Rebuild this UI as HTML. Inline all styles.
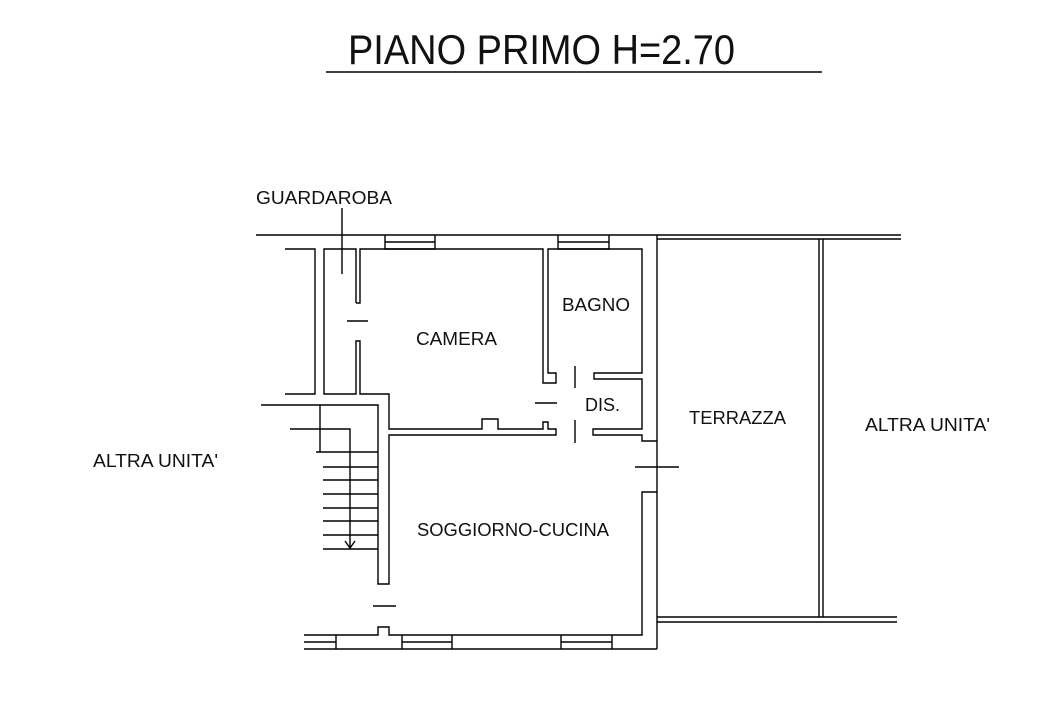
<!DOCTYPE html>
<html><head><meta charset="utf-8"><style>
html,body{margin:0;padding:0;background:#fff;width:1058px;height:706px;overflow:hidden}
svg{display:block}
text{font-family:"Liberation Sans",sans-serif;fill:#111}
</style></head><body>
<svg width="1058" height="706" viewBox="0 0 1058 706" xmlns="http://www.w3.org/2000/svg">
<text x="348" y="64" font-size="42" textLength="387" lengthAdjust="spacingAndGlyphs">PIANO PRIMO H=2.70</text>
<line x1="326" y1="72" x2="822" y2="72" stroke="#000" stroke-width="1.5"/>
<g font-size="18">
<text x="256" y="204" textLength="136" lengthAdjust="spacingAndGlyphs">GUARDAROBA</text>
<text x="416" y="345" textLength="81" lengthAdjust="spacingAndGlyphs">CAMERA</text>
<text x="562" y="311" textLength="68" lengthAdjust="spacingAndGlyphs">BAGNO</text>
<text x="585" y="411" textLength="35" lengthAdjust="spacingAndGlyphs">DIS.</text>
<text x="689" y="424" textLength="97" lengthAdjust="spacingAndGlyphs">TERRAZZA</text>
<text x="417" y="536" textLength="192" lengthAdjust="spacingAndGlyphs">SOGGIORNO-CUCINA</text>
<text x="865" y="431" textLength="125" lengthAdjust="spacingAndGlyphs">ALTRA UNITA'</text>
<text x="93" y="467" textLength="125" lengthAdjust="spacingAndGlyphs">ALTRA UNITA'</text>
</g>
<g stroke="#000" stroke-width="1.4" fill="none">
<line x1="256" y1="235" x2="901" y2="235"/>
<line x1="657" y1="239" x2="901" y2="239"/>
<polyline points="385,235 385,249 435,249 435,235"/>
<line x1="385" y1="242" x2="435" y2="242"/>
<polyline points="558,235 558,249 609,249 609,235"/>
<line x1="558" y1="242" x2="609" y2="242"/>
<polyline points="285,249 315,249 315,394 285,394"/>
<polyline points="356,303 356,249 324,249 324,394 356,394 356,341 360,341 360,394 389,394 389,429 482,429 482,419 498,419 498,429 543,429 543,422 548,422 548,429 556,429 556,435 389,435 389,584 378,584 378,405 261,405"/>
<polyline points="356,303 360,303 360,249 543,249 543,383 556,383 556,373 548,373 548,249 642,249 642,373 594,373 594,379 642,379 642,429 593,429 593,435 642,435 642,441 657,441"/>
<line x1="342" y1="208" x2="342" y2="274"/>
<line x1="347" y1="321" x2="368" y2="321"/>
<line x1="575" y1="366" x2="575" y2="388"/>
<line x1="575" y1="420" x2="575" y2="443"/>
<line x1="535" y1="403" x2="557" y2="403"/>
<line x1="657" y1="235" x2="657" y2="649"/>
<polyline points="657,492 642,492 642,635 389,635 389,627 378,627 378,635 304,635"/>
<line x1="635" y1="467" x2="679" y2="467"/>
<line x1="304" y1="649" x2="657" y2="649"/>
<line x1="304" y1="642" x2="336" y2="642"/>
<line x1="336" y1="635" x2="336" y2="649"/>
<polyline points="402,635 402,649"/><polyline points="452,635 452,649"/>
<line x1="402" y1="642" x2="452" y2="642"/>
<polyline points="561,635 561,649"/><polyline points="612,635 612,649"/>
<line x1="561" y1="642" x2="612" y2="642"/>
<line x1="373" y1="606" x2="396" y2="606"/>
<line x1="320" y1="405" x2="320" y2="452"/>
<line x1="316" y1="452" x2="378" y2="452"/>
<polyline points="290,429 350,429 350,548"/>
<polyline points="345,541 350,548 355,541"/>
<line x1="323" y1="467" x2="378" y2="467"/>
<line x1="323" y1="480" x2="378" y2="480"/>
<line x1="323" y1="494" x2="378" y2="494"/>
<line x1="323" y1="508" x2="378" y2="508"/>
<line x1="323" y1="521" x2="378" y2="521"/>
<line x1="323" y1="535" x2="378" y2="535"/>
<line x1="323" y1="549" x2="378" y2="549"/>
<line x1="819" y1="239" x2="819" y2="617"/>
<line x1="823" y1="239" x2="823" y2="617"/>
<line x1="657" y1="617" x2="897" y2="617"/>
<line x1="657" y1="622" x2="897" y2="622"/>
</g>
</svg>
</body></html>
